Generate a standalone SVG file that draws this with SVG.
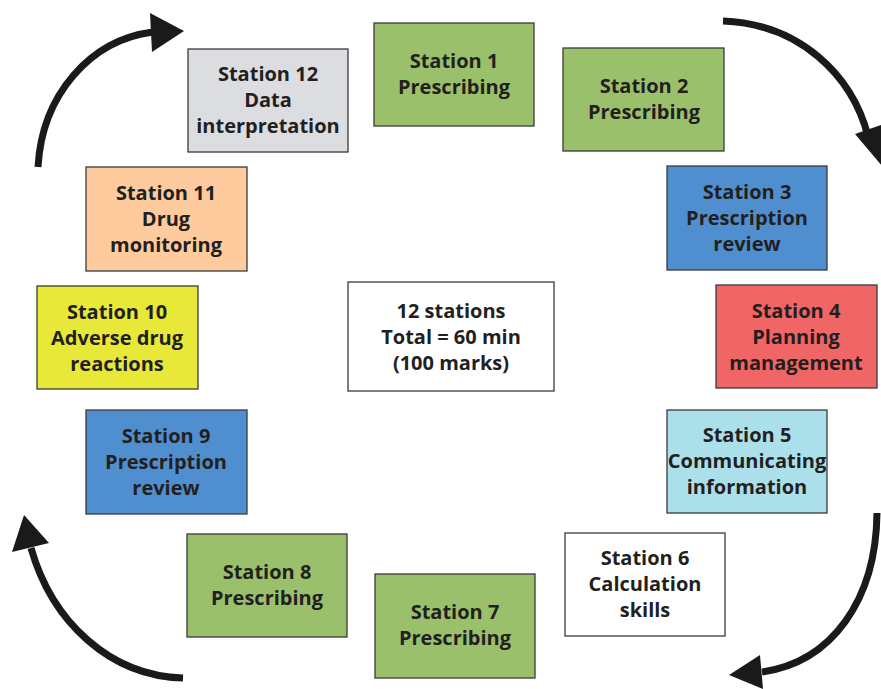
<svg xmlns="http://www.w3.org/2000/svg" width="881" height="689" viewBox="0 0 881 689">
<style>
.box{stroke:#3a3a3a;stroke-width:1.3}
.t{font-family:"Open Sans","DejaVu Sans",sans-serif;font-weight:bold;font-size:20px;fill:#231f20;text-anchor:middle}
.arc{fill:none;stroke:#1a1a1a;stroke-width:7}
.head{fill:#1a1a1a}
.green{fill:#9bc06b}
.blue{fill:#4f8fd0}
</style>
<rect width="881" height="689" fill="#fff"/>
<g id="connectors">
<path class="arc" d="M38,167 C42,95 90,40 153,32"/>
<polygon class="head" points="150,13 184,31 152,52"/>
<path class="arc" d="M723,21 C800,24 852,75 868,136"/>
<polygon class="head" points="855,134 884,124 882,166"/>
<path class="arc" d="M877,513 C876,600 832,662 762,672"/>
<polygon class="head" points="760,655 729,675 763,689"/>
<path class="arc" d="M183,678 C110,676 52,622 31,548"/>
<polygon class="head" points="12,552 24,515 49,543"/>
</g>
<g id="station1"><rect class="box green" x="374" y="23" width="160" height="103"/><text class="t" x="454" y="68">Station 1</text><text class="t" x="454" y="94">Prescribing</text></g>
<g id="station2"><rect class="box green" x="563" y="48" width="161" height="103"/><text class="t" x="644" y="93">Station 2</text><text class="t" x="644" y="119">Prescribing</text></g>
<g id="station3"><rect class="box blue" x="667" y="166" width="160" height="104"/><text class="t" x="747" y="199">Station 3</text><text class="t" x="747" y="225">Prescription</text><text class="t" x="747" y="251">review</text></g>
<g id="station4"><rect class="box" fill="#f06565" x="716" y="285" width="161" height="103"/><text class="t" x="796" y="318">Station 4</text><text class="t" x="796" y="344">Planning</text><text class="t" x="796" y="370">management</text></g>
<g id="station5"><rect class="box" fill="#abdfea" x="667" y="410" width="160" height="103"/><text class="t" x="747" y="442">Station 5</text><text class="t" x="747" y="468">Communicating</text><text class="t" x="747" y="494">information</text></g>
<g id="station6"><rect class="box" fill="#fff" x="565" y="533" width="160" height="103"/><text class="t" x="645" y="565">Station 6</text><text class="t" x="645" y="591">Calculation</text><text class="t" x="645" y="617">skills</text></g>
<g id="station7"><rect class="box green" x="375" y="574" width="160" height="104"/><text class="t" x="455" y="619">Station 7</text><text class="t" x="455" y="645">Prescribing</text></g>
<g id="station8"><rect class="box green" x="187" y="534" width="160" height="103"/><text class="t" x="267" y="579">Station 8</text><text class="t" x="267" y="605">Prescribing</text></g>
<g id="station9"><rect class="box blue" x="86" y="410" width="161" height="104"/><text class="t" x="166" y="443">Station 9</text><text class="t" x="166" y="469">Prescription</text><text class="t" x="166" y="495">review</text></g>
<g id="station10"><rect class="box" fill="#e8e838" x="37" y="286" width="161" height="103"/><text class="t" x="117" y="319">Station 10</text><text class="t" x="117" y="345">Adverse drug</text><text class="t" x="117" y="371">reactions</text></g>
<g id="station11"><rect class="box" fill="#fdcb9d" x="86" y="167" width="161" height="104"/><text class="t" x="166" y="200">Station 11</text><text class="t" x="166" y="226">Drug</text><text class="t" x="166" y="252">monitoring</text></g>
<g id="station12"><rect class="box" fill="#dcdde0" x="188" y="49" width="160" height="103"/><text class="t" x="268" y="81">Station 12</text><text class="t" x="268" y="107">Data</text><text class="t" x="268" y="133">interpretation</text></g>
<g id="center"><rect class="box" fill="#fff" x="348" y="282" width="206" height="109"/><text class="t" x="451" y="318">12 stations</text><text class="t" x="451" y="344">Total = 60 min</text><text class="t" x="451" y="370">(100 marks)</text></g>
</svg>
